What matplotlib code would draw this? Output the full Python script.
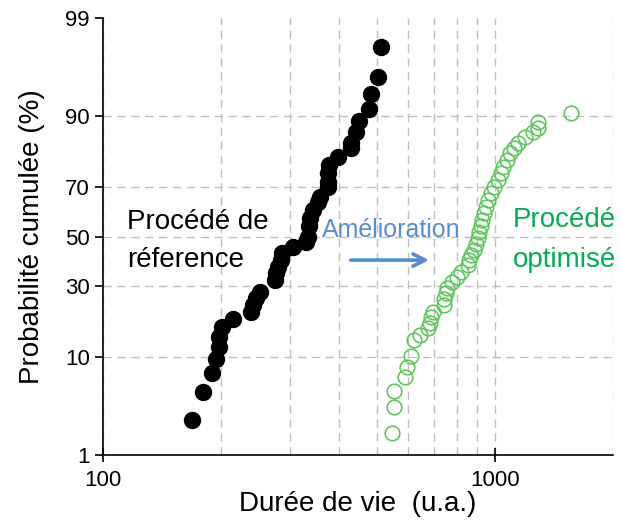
import numpy as np
import matplotlib
matplotlib.use('Agg')
import matplotlib.pyplot as plt
from matplotlib.ticker import FixedLocator, FixedFormatter, NullFormatter
from statistics import NormalDist

plt.rcParams['font.family'] = ['Liberation Sans', 'DejaVu Sans']

# reference process (lifetime, cumulative probability %)
ref_life = [169, 180, 190, 194, 198, 198, 201, 214, 238, 242, 246, 252, 275, 277, 279,
            284, 287, 306, 329, 333, 335, 338, 344, 353, 357, 374, 374, 376, 378, 397,
            428, 430, 441, 451, 478, 484, 502, 513]
ref_prob = [2.55, 4.9, 7.3, 9.6, 12.0, 14.3, 16.8, 19.0, 21.1, 23.3, 25.6, 27.8, 32.2, 34.9, 37.3,
            40.1, 43.0, 45.5, 47.6, 49.8, 54.4, 57.8, 61.1, 64.3, 66.3, 70.1, 71.9, 75.0, 77.7, 80.1,
            82.7, 84.0, 86.7, 89.0, 91.3, 93.5, 95.5, 97.8]

# optimised process
opt_life = [545, 554, 554, 588, 598, 612, 620, 642, 673, 681, 685, 693, 739, 743, 748, 756,
            779, 798, 817, 851, 856, 866, 882, 892, 903, 908, 919, 929, 935, 946, 957, 974,
            992, 1015, 1033, 1051, 1076, 1095, 1115, 1148, 1196, 1247, 1291, 1291, 1559]
opt_prob = [1.83, 3.5, 5.0, 6.7, 8.3, 10.2, 13.5, 14.7, 16.5, 17.9, 19.6, 21.1, 23.3, 25.3, 27.4, 29.2,
            31.4, 33.3, 35.3, 38.1, 40.1, 42.2, 44.3, 46.8, 49.4, 51.9, 54.4, 57.0, 59.9, 62.3, 65.1, 67.8,
            70.1, 72.6, 75.0, 77.0, 79.2, 81.3, 82.7, 84.0, 85.5, 86.7, 87.6, 88.8, 90.6]

prob_ticks = [1, 10, 30, 50, 70, 90, 99]
life_ticks = [100, 1000]
life_minor = [200, 300, 400, 500, 600, 700, 800, 900, 2000]

nd = NormalDist()
_ppf = np.vectorize(nd.inv_cdf, otypes=[float])
_cdf = np.vectorize(nd.cdf, otypes=[float])


def fwd(p):
    p = np.clip(np.asarray(p, dtype=float) / 100.0, 1e-9, 1 - 1e-9)
    return _ppf(p)


def inv(z):
    return _cdf(np.asarray(z, dtype=float)) * 100.0


fig = plt.figure(figsize=(6.21, 5.22), dpi=100)
ax = fig.add_axes([103 / 621, 1 - 455 / 522, 510 / 621, 437 / 522])

ax.set_xscale('log')
ax.set_yscale('function', functions=(fwd, inv))

ax.plot(ref_life, ref_prob, 'o', color='black', markersize=11.5, zorder=3)
ax.plot(opt_life, opt_prob, 'o', mfc='none', mec='#5fc85f', mew=1.2, markersize=10.5, zorder=3)

ax.set_xlim(100, 2000)
ax.set_ylim(1, 99)

ax.yaxis.set_major_locator(FixedLocator(prob_ticks))
ax.yaxis.set_major_formatter(FixedFormatter([str(t) for t in prob_ticks]))
ax.yaxis.set_minor_locator(FixedLocator([]))
ax.xaxis.set_major_locator(FixedLocator(life_ticks))
ax.xaxis.set_major_formatter(FixedFormatter([str(t) for t in life_ticks]))
ax.xaxis.set_minor_locator(FixedLocator(life_minor))
ax.xaxis.set_minor_formatter(NullFormatter())

grid_kw = dict(color='#c0c0c0', linestyle=(0, (6, 4)), linewidth=1.0)
ax.grid(True, which='major', axis='both', **grid_kw)
ax.grid(True, which='minor', axis='x', **grid_kw)
ylines = ax.yaxis.get_gridlines()
ylines[0].set_visible(False)
ylines[-1].set_visible(False)

for s in ['top', 'right']:
    ax.spines[s].set_visible(False)
ax.spines['left'].set_linewidth(1.2)
ax.spines['bottom'].set_linewidth(1.2)

ax.tick_params(axis='y', direction='out', length=6, width=1.2, labelsize=16)
ax.tick_params(axis='x', which='major', direction='inout', length=10, width=1.2, labelsize=16, pad=6)
ax.tick_params(axis='x', which='minor', length=0)

ax.set_xlabel('Durée de vie  (u.a.)', fontsize=20, labelpad=0)
ax.set_ylabel('Probabilité cumulée (%)', fontsize=20, labelpad=14)

ax.text(0.047, 0.533, 'Procédé de', transform=ax.transAxes, fontsize=20, va='center', ha='left')
ax.text(0.047, 0.446, 'réference', transform=ax.transAxes, fontsize=20, va='center', ha='left')
ax.text(0.804, 0.538, 'Procédé', transform=ax.transAxes, fontsize=20, va='center', ha='left', color='#00b050')
ax.text(0.804, 0.446, 'optimisé', transform=ax.transAxes, fontsize=20, va='center', ha='left', color='#00b050')
ax.text(0.429, 0.515, 'Amélioration', transform=ax.transAxes, fontsize=18, va='center', ha='left', color='#558ed5')
ax.annotate('', xy=(0.645, 0.446), xytext=(0.480, 0.446), xycoords='axes fraction',
            arrowprops=dict(arrowstyle='->', color='#558ed5', lw=2.6, mutation_scale=22))

fig.savefig('out.png', dpi=100)
